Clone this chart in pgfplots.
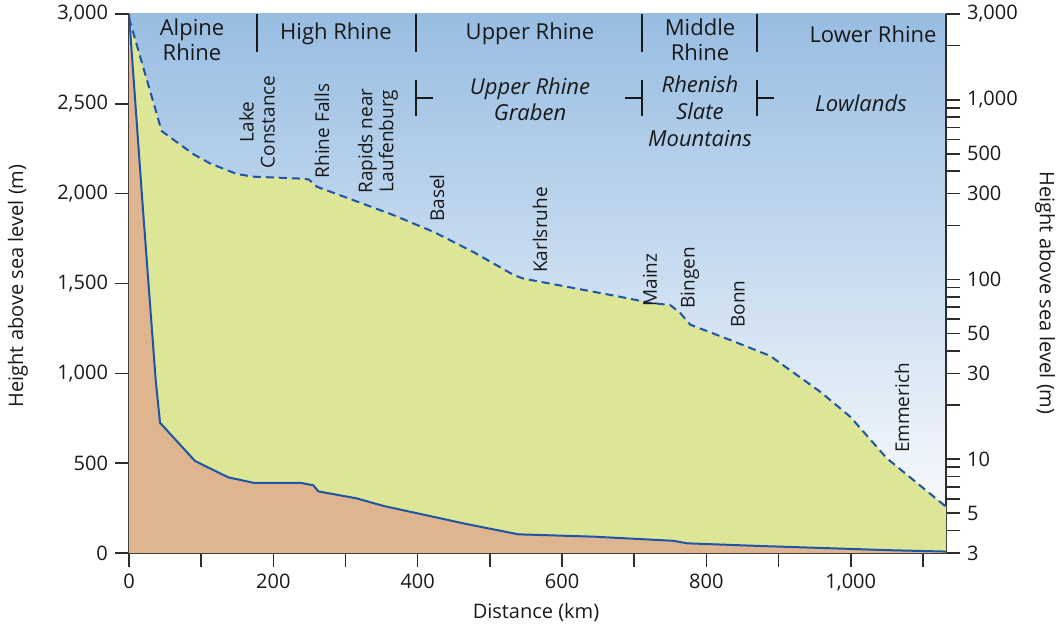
\documentclass[border=0pt]{standalone}
\usepackage{pgfplots}
\pgfplotsset{compat=1.18}
\usepackage{fontspec}
\setmainfont{Open Sans}
\definecolor{bgtop}{RGB}{152,189,226}
\definecolor{greenfill}{RGB}{221,230,150}
\definecolor{brownfill}{RGB}{222,181,143}
\definecolor{riverblue}{RGB}{30,84,166}
\definecolor{axisgray}{RGB}{45,45,45}
\definecolor{txt}{RGB}{25,25,25}
\begin{document}
\begin{tikzpicture}[x=1pt,y=1pt]
\useasboundingbox (-64.5,-39.5) rectangle (467.5,276.5);
\pgfplotsset{
  base/.style={
    scale only axis, width=408.5pt, height=269.5pt,
    at={(0,0)}, anchor=south west,
    xmin=0, xmax=1132,
    axis line style={axisgray, line width=0.8pt},
    tick style={axisgray, line width=0.8pt},
    tick align=outside,
    major tick length=7pt, minor tick length=7pt,
    tick label style={font=\fontsize{10}{12}\selectfont, text=txt},
    scaled ticks=false,
    /pgf/number format/assume math mode=true,
    /pgf/number format/1000 sep={,},
  }
}
% background
\shade[top color=bgtop, bottom color=white] (0,0) rectangle (408.5,269.5);
% log axis (right)
\begin{axis}[base, ymode=log, ymin=3, ymax=3000,
  axis x line=none, axis y line*=right,
  ytick={3,5,10,30,50,100,300,500,1000,3000},
  yticklabels={3,5,10,30,50,100,300,500,{1,000},{3,000}},
  minor ytick={4,6,7,8,9,20,40,60,70,80,90,200,400,600,700,800,900,2000},
  ]
\addplot[draw=none, fill=greenfill] coordinates {
(0,2850) (45.3,669) (89.1,498) (112.3,442) (149.3,386) (172.3,373) (237,364)
(249,360) (260.2,328) (310.9,276) (366.3,228) (421.8,184) (477.2,142) (532.6,106)
(546.5,101) (606.7,91) (680.5,80) (722.1,74) (749.8,72) (763.7,65) (777.5,56)
(833,46) (888.4,37.5) (957.7,23.7) (999.3,17.2) (1050,10.1) (1132,5.43)
} \closedcycle;
\addplot[riverblue, line width=1pt, dash pattern=on 4pt off 2.5pt] coordinates {
(0,2850) (45.3,669) (89.1,498) (112.3,442) (149.3,386) (172.3,373) (237,364)
(249,360) (260.2,328) (310.9,276) (366.3,228) (421.8,184) (477.2,142) (532.6,106)
(546.5,101) (606.7,91) (680.5,80) (722.1,74) (749.8,72) (763.7,65) (777.5,56)
(833,46) (888.4,37.5) (957.7,23.7) (999.3,17.2) (1050,10.1) (1132,5.43)
};
\end{axis}
% linear axis (left, bottom)
\begin{axis}[base, ymin=0, ymax=3000,
  axis x line*=bottom, axis y line*=left,
  xtick={0,200,400,600,800,1000}, minor xtick={100,300,500,700,900,1100},
  ytick={0,500,1000,1500,2000,2500,3000},
  ]
\addplot[draw=none, fill=brownfill] coordinates {
(0,3000) (18.4,1964) (37,963) (43,725) (91.5,512) (137.6,421) (172.3,391) (237,391)
(255.4,377) (262.4,343) (315.6,304) (352.5,262) (468,161) (539.6,104) (643.5,91)
(754.4,68) (773,54) (874.6,39) (1059,15) (1132,8)
} \closedcycle;
\addplot[riverblue, line width=1pt] coordinates {
(0,3000) (18.4,1964) (37,963) (43,725) (91.5,512) (137.6,421) (172.3,391) (237,391)
(255.4,377) (262.4,343) (315.6,304) (352.5,262) (468,161) (539.6,104) (643.5,91)
(754.4,68) (773,54) (874.6,39) (1059,15) (1132,8)
};
\end{axis}
% axis labels
\node[rotate=90, font=\fontsize{10}{12}\selectfont, text=txt] at (-55.5,133.5) {Height above sea level (m)};
\node[rotate=-90, font=\fontsize{10}{12}\selectfont, text=txt] at (458,130) {Height above sea level (m)};
\node[font=\fontsize{10}{12}\selectfont, text=txt] at (203.5,-29.5) {Distance (km)};
% region labels
\begin{scope}[every node/.style={font=\fontsize{11}{12.5}\selectfont, text=txt, align=center, inner sep=0pt}]
\node at (31.5,256.5) {Alpine\\Rhine};
\node at (103.5,259.5) {High Rhine};
\node at (200.5,259.5) {Upper Rhine};
\node at (285.5,256.5) {Middle\\Rhine};
\node at (372,259.5) {Lower Rhine};
\node[font=\fontsize{11}{13}\selectfont\itshape] at (200.5,227) {Upper Rhine\\Graben};
\node[font=\fontsize{11}{13.5}\selectfont\itshape] at (285.5,221) {Rhenish\\Slate\\Mountains};
\node[font=\fontsize{11}{13}\selectfont\itshape] at (366,225) {Lowlands};
\end{scope}
\begin{scope}[line width=0.9pt, draw=txt]
\draw (64,269.5) -- (64,250.5);
\draw (143.5,269.5) -- (143.5,250.5);
\draw (256.5,269.5) -- (256.5,250.5);
\draw (314,269.5) -- (314,250.5);
\draw (143.5,236.5) -- (143.5,218.5) (143.5,227.5) -- (152,227.5);
\draw (256.5,236.5) -- (256.5,218.5) (256.5,227.5) -- (248,227.5);
\draw (314,236.5) -- (314,218.5) (314,227.5) -- (322.5,227.5);
\end{scope}
% place labels
\begin{scope}[every node/.style={rotate=90, font=\fontsize{9.5}{10.5}\selectfont, text=txt, align=center, inner sep=0pt}]
\node at (64,215.5) {Lake\\Constance};
\node at (96.5,211) {Rhine Falls};
\node at (124.5,206) {Rapids near\\Laufenburg};
\node at (154,177.5) {Basel};
\node at (205.5,161.5) {Karlsruhe};
\node at (260.5,136.5) {Mainz};
\node at (280.5,137.5) {Bingen};
\node at (304.5,124.5) {Bonn};
\node at (386.5,72.5) {Emmerich};
\end{scope}
\end{tikzpicture}
\end{document}
